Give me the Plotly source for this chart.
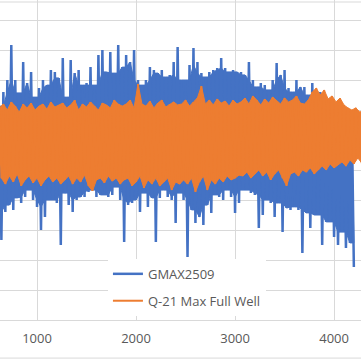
import plotly.graph_objects as go

# sample index positions (x axis units)
x_start = 620
x_step = 40

# GMAX2509: per-step upper and lower swing values
gmax_hi = [11.3, 16, 20, 31.7, 20, 15.7, 26, 19, 22.7, 14.3, 17.3, 20, 18.3, 23.3, 22.7, 20.7,
           27.3, 14.3, 26.7, 22.3, 23.3, 18.3, 19, 24.3, 18.3, 28.3, 30, 22.7, 29.3, 22.3, 31.7,
           24.3, 28.3, 26, 30, 20, 18.3, 20, 24.3, 23.3, 22.3, 23.3, 21, 21.7, 26, 31,
           20, 20, 25, 30.7, 26, 22.3, 21, 22.7, 23.3, 24, 27.3, 24, 22.7, 23.3, 22.7,
           22.7, 21.7, 26, 20, 17.7, 19, 18.3, 16.7, 20, 25.7, 21.7, 23.3, 17.3, 16, 20, 17.7,
           17.7, 15, 19, 16.7, 16, 15, 6.7, 7.3, 6, 6.7, 5, 6, 5]
gmax_lo = [-33.3, -24, -21.7, -23.3, -19.3, -21, -19, -16.7, -20, -22.3, -30, -25.7, -20, -20, -21, -35,
           -17.7, -21.7, -24, -20, -19, -19, -17.3, -16.7, -19, -18.3, -18.3, -19, -18.3, -15.7, -20, -34,
           -21.7, -21, -20, -24, -17.7, -22.3, -19.3, -34, -19.3, -16.7, -19, -20, -27.7, -17.7,
           -20, -39, -23.3, -27.7, -25.7, -28.3, -21.7, -24.3, -18.3, -19, -20, -16.7, -19, -24.3, -21,
           -16.7, -16.7, -17.7, -18.3, -29.3, -25, -20, -21, -25.7, -21, -30.7, -22.7, -23.3, -22.3, -23.3, -37.7,
           -24.3, -29.3, -25, -25, -35, -27.3, -27.3, -32.3, -35, -30.7, -36, -34.3, -42.3]

# Q-21 Max Full Well: per-step upper and lower swing values
q21_hi = [10.7, 12, 10, 12.7, 11.3, 9.3, 12, 10.7, 12.3, 10, 11.3, 12, 10.3, 12.7, 11, 11.7,
          12.3, 10.7, 11.7, 13.3, 10, 12, 11, 12.7, 11.3, 10, 12.3, 11.7, 10.7, 13.3, 12, 11.3,
          12, 13.3, 10.7, 18.7, 12, 11.3, 13, 10.7, 12.3, 13.3, 11, 12, 12.7, 11.7,
          12, 13.3, 11.3, 12.7, 14, 18, 12, 13.3, 11.7, 13.7, 12.3, 13, 11.3, 13.3, 12,
          12.7, 14, 12, 14.7, 13.3, 11.7, 13.7, 12.3, 14.3, 13, 12, 14, 12.7, 13.3, 14.7, 12.3,
          12, 13.3, 16, 17.3, 15, 16.7, 13.7, 14.7, 12.7, 14, 11.7, 10.7, 10, 10.7, 9.3, 10]
q21_lo = [-12.7, -14.7, -12, -14, -11.3, -15.3, -13.3, -12, -14.3, -12.7, -15.3, -13.3, -12, -14, -12.7, -14.7,
          -13.3, -12, -14.7, -12.7, -14, -11.7, -15.3, -17, -13.3, -12.7, -14.3, -12, -13.7, -12.7, -14.7, -13.3,
          -12.7, -15.3, -14, -12, -16, -13.3, -14.7, -12.7, -15.3, -14, -12.7, -16.7, -14, -14.7,
          -13.3, -14.7, -12.7, -17.3, -14, -12, -16.7, -13.3, -14.7, -12.7, -14, -12, -13.3, -12.7, -11.7,
          -12, -10.7, -12.7, -11.3, -10, -12, -10.7, -13.3, -11.3, -10, -12.7, -15.3, -11.3, -10.7, -12, -10,
          -10.7, -9.3, -11.3, -10, -8.7, -10, -8, -9.3, -8.3, -7.3, -8.7, -6.7, -8, -6, -7.7, -6.7]

x_ticks = [1000, 2000, 3000, 4000]

BLUE = "#4472C4"
ORANGE = "#ED7D31"
GRID = "#D9D9D9"


def hi_x(n):
    return [x_start + i * x_step for i in range(n)]


def lo_x(n):
    return [x_start + i * x_step + x_step / 2 for i in range(n)]


def zigzag(hi, lo):
    xs, ys = [], []
    for xh, xl, h, l in zip(hi_x(len(hi)), lo_x(len(lo)), hi, lo):
        xs += [xh, xl]
        ys += [h, l]
    return xs, ys


def envelope(hi, lo):
    return hi_x(len(hi)) + lo_x(len(lo))[::-1], list(hi) + list(lo)[::-1]


def core(vals, pick):
    # dense body of the trace: the smaller swing among neighbouring samples
    n = len(vals)
    return [pick(vals[max(0, i - 1):min(n, i + 2)]) for i in range(n)]


bx, by = zigzag(gmax_hi, gmax_lo)
cx, cy = envelope(core(gmax_hi, min), core(gmax_lo, max))
ox, oy = zigzag(q21_hi, q21_lo)
ex, ey = envelope(q21_hi, q21_lo)

fig = go.Figure()
fig.add_trace(go.Scatter(x=cx, y=cy, mode="lines", fill="toself", fillcolor=BLUE,
                         line=dict(color=BLUE, width=1), showlegend=False,
                         legendgroup="a", hoverinfo="skip"))
fig.add_trace(go.Scatter(x=bx, y=by, mode="lines", name="GMAX2509",
                         line=dict(color=BLUE, width=2.5), legendgroup="a"))
fig.add_trace(go.Scatter(x=ex, y=ey, mode="lines", fill="toself", fillcolor=ORANGE,
                         line=dict(color=ORANGE, width=1), showlegend=False,
                         legendgroup="b", hoverinfo="skip"))
fig.add_trace(go.Scatter(x=ox, y=oy, mode="lines", name="Q-21 Max Full Well",
                         line=dict(color=ORANGE, width=2), legendgroup="b"))

fig.update_layout(
    width=361, height=361,
    margin=dict(l=0, r=0, t=0, b=41, autoexpand=False),
    paper_bgcolor="white", plot_bgcolor="white",
    font=dict(family="Open Sans, Liberation Sans, sans-serif", size=13, color="#595959"),
    xaxis=dict(range=[626, 4272], tickvals=x_ticks, ticktext=[str(v) for v in x_ticks],
               showgrid=True, gridcolor=GRID, gridwidth=1, zeroline=False,
               showline=True, linecolor=GRID, linewidth=1, automargin=False,
               ticks="outside", ticklen=6, tickcolor="rgba(0,0,0,0)",
               tickfont=dict(size=13, color="#595959")),
    yaxis=dict(range=[-60, 46.67], tick0=0, dtick=10, showgrid=True, gridcolor=GRID,
               gridwidth=1, zeroline=False, showticklabels=False, showline=False,
               automargin=False),
    showlegend=True,
    legend=dict(x=0.299, y=0.191, xanchor="left", yanchor="top", bgcolor="white",
                borderwidth=0, font=dict(size=13, color="#595959"),
                tracegroupgap=7, traceorder="grouped"),
    shapes=[
        dict(type="line", xref="paper", yref="paper", x0=0, x1=1, y0=0.99375, y1=0.99375,
             line=dict(color=GRID, width=1), layer="below"),
        dict(type="line", xref="paper", yref="paper", x0=0, x1=1, y0=-0.119, y1=-0.119,
             line=dict(color=GRID, width=1)),
    ],
)

fig.write_html("out.html", config={"displayModeBar": False},
               post_script="document.body.style.margin='0';document.body.style.overflow='hidden';")
